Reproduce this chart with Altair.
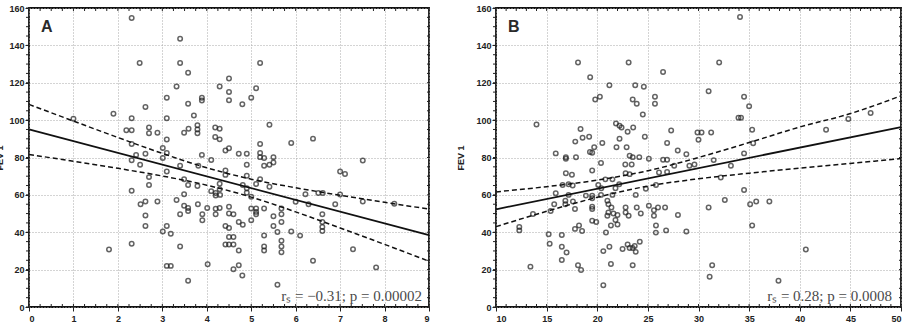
import altair as alt
import pandas as pd

# ---- Panel A: FEV 1 against x (0-9) ----
a_x = [1.0, 1.9, 1.8, 2.31, 3.40, 2.49, 3.40, 3.58, 3.32, 4.29, 4.5, 4.5, 4.5, 3.10, 3.89, 3.89,
       2.62, 3.58, 2.31, 3.10, 3.71, 3.79, 3.79, 3.79, 2.19, 2.31, 2.70, 2.70, 2.89, 3.49, 3.59,
       4.19, 4.29, 4.19, 4.29, 3.10, 2.31, 3.01, 3.10, 3.01, 2.41, 2.62, 2.31, 2.5, 3.89, 4.10,
       4.42, 4.5, 3.10, 3.40, 3.81, 4.42, 4.42, 2.70, 2.70, 3.49, 3.58, 3.79, 4.29, 4.29, 4.2,
       4.1, 4.2, 4.3, 2.31, 3.49, 2.51, 2.62, 2.89, 3.32, 3.49, 3.58, 3.58, 3.80, 4.01, 4.2,
       4.29, 4.5, 4.5, 4.2, 3.40, 3.9, 3.9, 2.62, 2.62, 3.10, 3.01, 3.19, 4.42, 4.5, 4.5, 4.42,
       4.5, 2.31, 3.40, 3.10, 3.19, 4.02, 3.58,
       5.20, 5.11, 5.0, 4.80, 5.41, 5.90, 6.39, 5.2, 5.2, 5.2, 5.29, 5.41, 5.50, 5.50, 5.29,
       4.90, 4.72, 4.90, 4.90, 5.2, 5.11, 4.81, 4.9, 4.9, 5.0, 5.41, 6.22, 6.51, 6.61, 6.0,
       6.29, 6.89, 5.0, 5.11, 5.11, 5.11, 5.29, 5.5, 5.68, 5.68, 5.68, 6.6, 6.6, 6.6, 6.6, 4.6,
       5.0, 4.72, 4.81, 4.6, 4.6, 4.72, 5.5, 5.59, 5.29, 5.29, 5.29, 5.68, 5.68, 5.68, 5.9,
       6.10, 6.39, 4.6, 4.72, 4.8, 5.59,
       7.51, 7.0, 7.11, 7.0, 7.51, 8.22, 7.29, 7.81]
a_y = [100.7, 103.4, 30.8, 154.7, 143.5, 130.6, 130.6, 125.4, 118, 118, 122.3, 115, 110.6, 112,
       112, 110.5, 107, 108.8, 101, 101, 102.5, 97.3, 95, 93, 94.6, 94.6, 96, 93, 93.2, 93.2,
       95.4, 96, 95.4, 91, 89.7, 89.6, 87.2, 85.1, 82.4, 79.7, 81.4, 82, 78.5, 76.1, 81.4, 78.7,
       83.7, 85, 72.5, 75.6, 75.6, 73, 70.7, 69.5, 65.3, 68.4, 65.3, 64.8, 66, 63, 61, 62, 59.7,
       60, 62.2, 60.3, 55, 56.5, 56.5, 57.2, 54.2, 53, 51.4, 55, 53, 52.6, 53, 53.6, 50, 49.6,
       49.6, 49.6, 46.4, 49, 43.3, 43.3, 40.4, 39.2, 43.3, 42.3, 37.4, 33.4, 33.4, 33.8, 32.4,
       22, 22, 22.9, 14,
       130.6, 117.1, 112, 108.5, 97.5, 87.8, 90.1, 87.2, 82.4, 80.2, 79.7, 76.1, 80.2, 77.3,
       75.6, 82, 82, 76.1, 70.2, 68.4, 65.8, 65.3, 63.5, 61.1, 59, 64.4, 60.3, 61, 61, 56.3, 55,
       55, 52.7, 52.7, 50.9, 49.6, 52.7, 48.6, 52.7, 49.6, 45.5, 49.6, 45.5, 42.8, 40.7, 49.6,
       46.4, 45.5, 44, 37.4, 33.4, 30.2, 43.3, 40.1, 38.3, 32.4, 30.2, 35.4, 32.4, 29.3, 40.4,
       38.2, 24.8, 20.2, 22.4, 16.8, 11.9,
       78.4, 72.5, 71.2, 60.2, 56.5, 55.2, 30.9, 21.2]

a_fit_x = [0, 9]
a_fit_y = [95.0, 38.5]
a_band_x = [0, 1, 2, 3, 4, 5, 6, 7, 8, 9]
a_band_hi = [108.4, 99.5, 90.7, 82.2, 74.5, 68.4, 63.8, 59.8, 56.0, 52.4]
a_band_lo = [81.6, 78.0, 74.2, 70.1, 65.2, 58.8, 50.9, 42.3, 33.5, 24.5]
a_note = "rₛ = −0.31; p = 0.00002"

# ---- Panel B: FEV 1 against x (10-50) ----
b_x = [13.4, 12.3, 12.3, 13.65, 15.2, 15.3, 15.75, 15.4, 15.9, 14.0, 15.9,
       18.1, 23.1, 19.3, 26.5, 21.2, 23.75, 24.6, 19.8, 20.26, 23.5, 23.9, 25.7, 25.7, 24.5,
       21.85, 22.2, 22.4, 23.0, 23.55, 18.35, 27.3, 17.83, 18.55, 19.2, 20.5, 22.2, 21.9, 22.9,
       24.7, 19.7, 19.28, 19.5, 26.9, 27.95, 16.9, 16.9, 17.9, 23.2, 23.5, 24.15, 25.1, 20.37,
       22.77, 23.4, 26.5, 26.9, 19.5, 16.9, 17.5, 20.8, 21.5, 22.8, 23.2, 26.1, 26.9, 27.6,
       16.58, 17.17, 17.57, 20.4, 20.1, 22.17, 21.8, 24.8, 25.8, 18.88, 19.5, 19.5, 17.17,
       17.6, 20.37, 21.5, 23.8, 16.85, 16.85, 17.8, 19.5, 19.5, 21.0, 21.1, 21.4, 21.1, 21.0,
       21.6, 22.0, 21.8, 22.0, 22.8, 22.8, 23.1, 23.9, 24.3, 25.1, 25.6, 26.0, 26.7, 25.6,
       27.97, 19.5, 19.9, 21.35, 20.86, 17.8, 18.2, 18.5, 25.8, 25.79, 26.8, 16.5, 16.5, 16.97,
       16.5, 20.6, 21.2, 22.5, 23.0, 23.2, 23.7, 24.2, 23.8, 23.5, 18.1, 18.4, 21.35, 23.5, 20.6,
       32.04, 31.0, 34.5, 35.0, 33.95, 34.2, 35.3, 29.9, 30.3, 31.25, 30.0, 35.4, 34.5, 28.8,
       31.5, 29.1, 29.6, 33.2, 32.2, 34.5, 32.6, 31.0, 35.1, 35.7, 37.0, 35.3, 28.8, 31.35, 31.1,
       37.9, 34.1, 42.6, 44.8, 47.0, 40.6]
b_y = [21.6, 42.8, 41.0, 49.8, 38.9, 33.9, 55, 51.4, 60.9, 97.7, 82.2,
       130.8, 130.8, 123, 125.8, 118.7, 118.7, 117.9, 111, 112.5, 111, 108.8, 112.5, 108.8, 103,
       98.2, 97, 96, 93.8, 96, 95.2, 94.5, 88.5, 90.6, 91.1, 87.8, 90, 85.5, 85.5, 91.1, 85.5,
       83, 82.5, 87.8, 83.7, 80.1, 79.3, 80.1, 80.9, 80.2, 80.2, 79.3, 77, 76.3, 76.3, 78.8,
       78.8, 73, 71.6, 70.8, 68.3, 68.3, 71.6, 71.1, 72, 72.3, 75.6, 65.3, 65.7, 65, 63.6, 65.3,
       65.7, 63.6, 63.3, 65.3, 59.6, 59.6, 58.2, 60, 56.4, 60, 60, 60, 55, 56.8, 52.5, 53.7,
       52.5, 56.8, 55, 53.2, 50.6, 48.8, 50, 49.2, 46.5, 44.2, 53.2, 50.6, 48.8, 53.2, 50, 54.2,
       51.8, 53.2, 53.2, 48.8, 49.2, 46.2, 45.5, 43.6, 39.9, 41.8, 43.6, 40.7, 43.6, 39.8, 41,
       38.5, 32.2, 29.2, 25.2, 29.9, 32.2, 31, 33.5, 31.6, 32.7, 34.9, 29.5, 31.6, 22.3, 19.8,
       23, 22.3, 11.6,
       130.8, 115.5, 112.5, 107.4, 101.3, 101.3, 94.9, 93.4, 93.4, 93.4, 89.5, 87.6, 82.2, 81.7,
       78.6, 75.6, 76.3, 75.6, 69.3, 62.6, 57.3, 53.2, 55, 56.4, 56.4, 43.6, 40.4, 22.3, 16.2,
       14, 155.2, 94.9, 100.6, 103.8, 30.8]

b_fit_x = [10, 50]
b_fit_y = [52.3, 96.3]
b_band_x = [10, 15, 20, 25, 30, 35, 40, 45, 50]
b_band_hi = [61.6, 64.4, 67.9, 72.9, 80.0, 88.0, 96.3, 103.5, 113.0]
b_band_lo = [43.0, 51.2, 58.7, 64.7, 68.6, 71.6, 74.3, 76.8, 79.4]
b_note = "rₛ = 0.28; p = 0.0008"

y_ticks = [0, 20, 40, 60, 80, 100, 120, 140, 160]
y_minor = list(range(0, 161, 5))
a_x_ticks = list(range(0, 10))
a_x_minor = [i * 0.25 for i in range(0, 37)]
b_x_ticks = list(range(10, 51, 5))
b_x_minor = list(range(10, 51))

INK = "#222222"
PW = 400
PH = 299
BW = 405


def panel(xs, ys, fit_x, fit_y, band_x, hi, lo, dom, xticks, xminor, letter, note,
          width, title_pad, note_inset):
    xscale = alt.Scale(domain=dom, nice=False, zero=False)
    yscale = alt.Scale(domain=[0, 160], nice=False)
    grid = dict(grid=True, gridColor="#a8a8a8", gridDash=[1, 2], gridWidth=1)
    xaxis = alt.Axis(values=xticks, title=None, tickSize=4, domain=False,
                     labelPadding=3, labelOverlap=False, format="d", **grid)
    yaxis = alt.Axis(values=y_ticks, title="FEV 1", tickSize=4, domain=False,
                     labelPadding=1, labelOverlap=False, titlePadding=title_pad, **grid)

    # every layer carries the same scale and axis definition so they merge cleanly
    def xs_(f):
        return alt.X(f, scale=xscale, axis=xaxis, title=None)

    def ys_(f):
        return alt.Y(f, scale=yscale, axis=yaxis, title="FEV 1")

    pts = alt.Chart(pd.DataFrame({"x": xs, "y": ys})).mark_point(
        shape="circle", filled=False, size=20, strokeWidth=1.5, color="#222222"
    ).encode(x=xs_("x:Q"), y=ys_("y:Q"))

    fit = alt.Chart(pd.DataFrame({"x": fit_x, "y": fit_y})).mark_line(
        color="#111111", strokeWidth=1.8
    ).encode(x=xs_("x:Q"), y=ys_("y:Q"))

    band_df = pd.DataFrame({"x": band_x, "hi": hi, "lo": lo})
    upper = alt.Chart(band_df).mark_line(
        color="#111111", strokeWidth=1.5, strokeDash=[5, 3], interpolate="monotone"
    ).encode(x=xs_("x:Q"), y=ys_("hi:Q"))
    lower = alt.Chart(band_df).mark_line(
        color="#111111", strokeWidth=1.5, strokeDash=[5, 3], interpolate="monotone"
    ).encode(x=xs_("x:Q"), y=ys_("lo:Q"))

    # minor ticks around the frame
    mx = pd.DataFrame({"v": xminor})
    my = pd.DataFrame({"v": y_minor})
    tick_style = dict(color=INK, strokeWidth=1)
    t_bottom = alt.Chart(mx).mark_rule(**tick_style).encode(
        x=xs_("v:Q"), y=alt.value(PH - 3), y2=alt.value(PH + 1))
    t_top = alt.Chart(mx).mark_rule(**tick_style).encode(
        x=xs_("v:Q"), y=alt.value(-1), y2=alt.value(3))
    t_left = alt.Chart(my).mark_rule(**tick_style).encode(
        y=ys_("v:Q"), x=alt.value(-3), x2=alt.value(1))
    t_right = alt.Chart(my).mark_rule(**tick_style).encode(
        y=ys_("v:Q"), x=alt.value(width - 2), x2=alt.value(width + 1))

    tag = alt.Chart(pd.DataFrame({"t": [letter]})).mark_text(
        font="Liberation Sans", fontSize=16, fontWeight="bold", color="#2a2a2a",
        align="left", baseline="alphabetic"
    ).encode(x=alt.value(12), y=alt.value(24), text="t:N")

    stat = alt.Chart(pd.DataFrame({"t": [note]})).mark_text(
        font="Liberation Serif", fontSize=15, color="#4a4a4a",
        align="right", baseline="alphabetic"
    ).encode(x=alt.value(width - note_inset), y=alt.value(PH - 6), text="t:N")

    return alt.layer(pts, upper, lower, fit, t_bottom, t_top, t_left, t_right, tag, stat
                     ).properties(width=width, height=PH)


chart_a = panel(a_x, a_y, a_fit_x, a_fit_y, a_band_x, a_band_hi, a_band_lo, [0, 9],
                a_x_ticks, a_x_minor, "A", a_note, PW, 4, 7)
chart_b = panel(b_x, b_y, b_fit_x, b_fit_y, b_band_x, b_band_hi, b_band_lo, [10, 50],
                b_x_ticks, b_x_minor, "B", b_note, BW, 10, 9)

chart = alt.hconcat(chart_a, chart_b, spacing=22).properties(
    padding={"left": -5, "top": 3, "right": 0, "bottom": 0},
    background="white",
).configure_view(
    stroke="#111111", strokeWidth=1.8
).configure_axis(
    labelFont="Liberation Sans", labelFontSize=9, labelFontWeight="bold", labelColor=INK,
    titleFont="Liberation Sans", titleFontSize=9, titleFontWeight="bold", titleColor=INK,
    tickColor=INK, tickWidth=1
)

chart.save("out.html", embed_options={"renderer": "svg", "actions": False})
